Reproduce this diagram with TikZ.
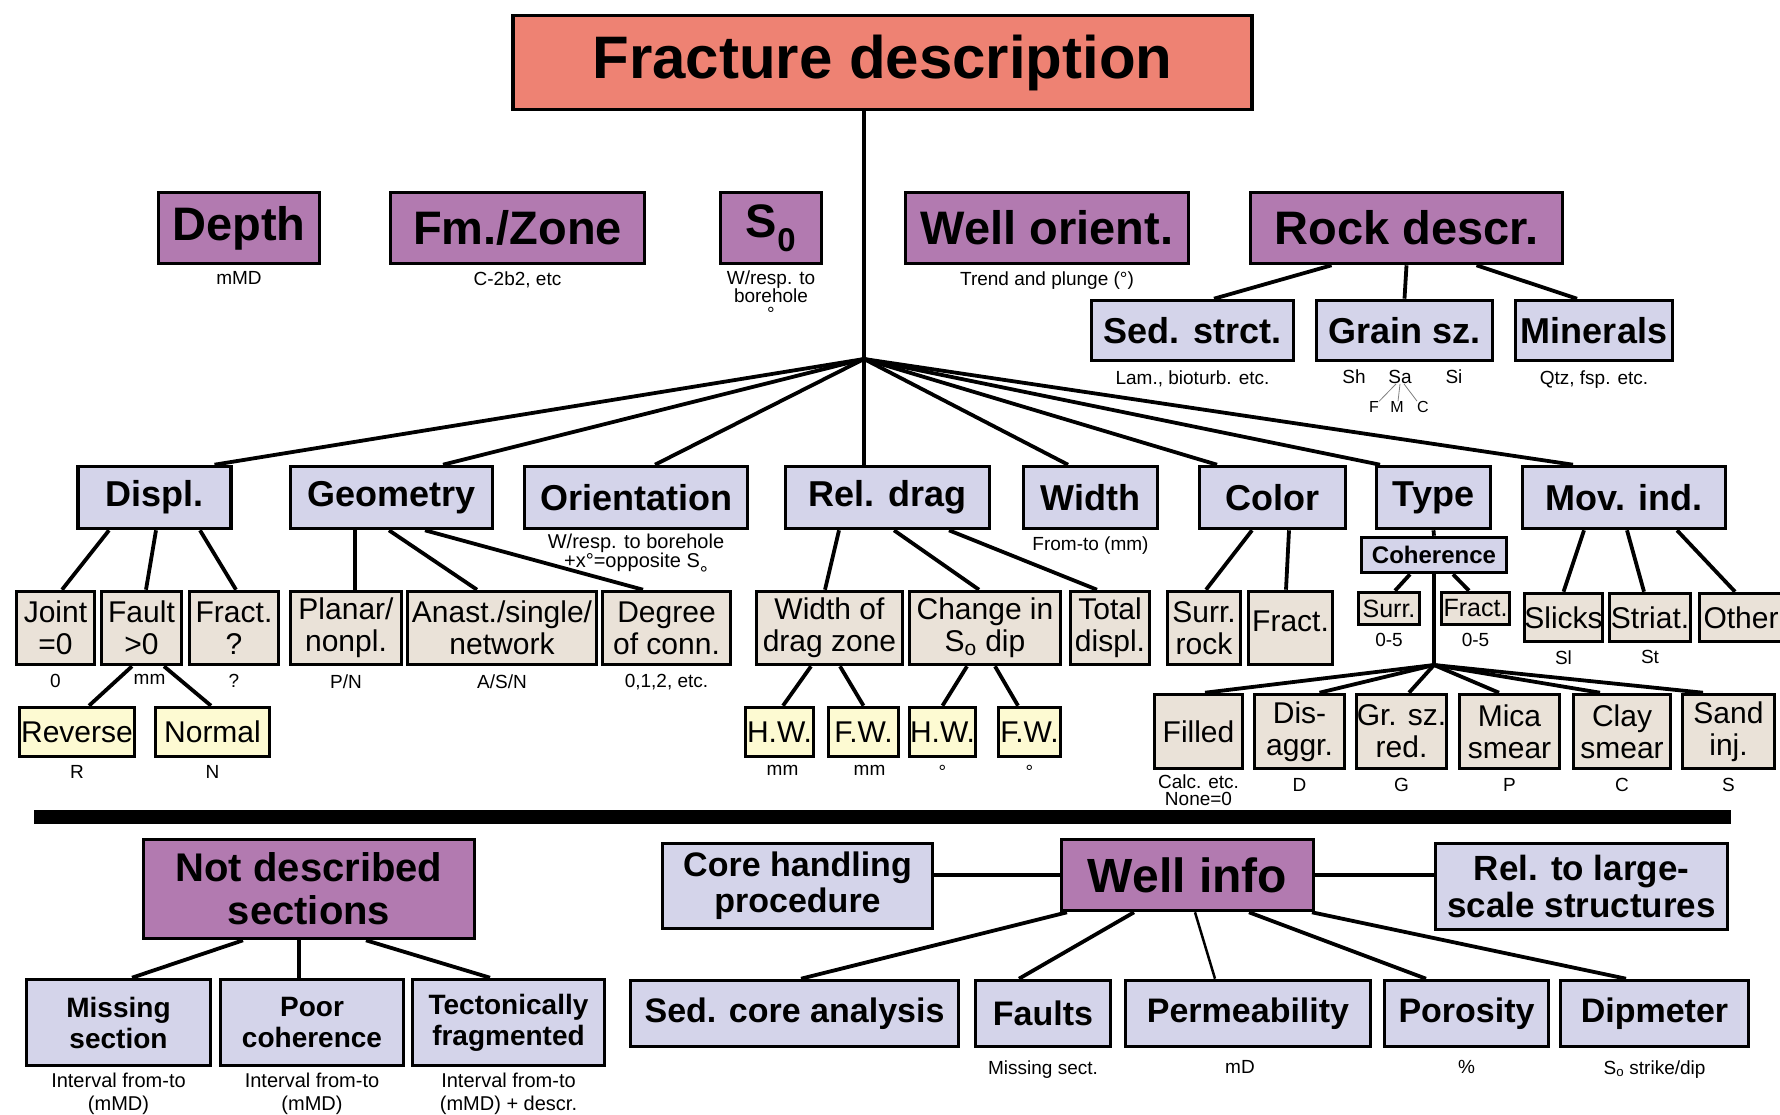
\documentclass[tikz,border=0pt]{standalone}
\usepackage{fontspec}
\setmainfont{Liberation Sans}
\usetikzlibrary{positioning}
\definecolor{salmon}{RGB}{238,130,115}
\definecolor{purp}{RGB}{178,122,176}
\definecolor{lav}{RGB}{212,212,234}
\definecolor{beig}{RGB}{234,226,216}
\definecolor{yel}{RGB}{253,250,210}

\begin{document}
\begin{tikzpicture}[x=1pt,y=-1pt,
  box/.style={draw,line width=3.6pt,inner sep=0pt,align=center},
  sz/.style 2 args={minimum width=#1,minimum height=#2},
  ttl/.style={box,fill=salmon,font=\fontsize{60}{62}\selectfont\bfseries},
  prp/.style={box,fill=purp,font=\fontsize{47}{50}\selectfont\bfseries},
  lv/.style={box,fill=lav,font=\fontsize{36}{38}\selectfont\bfseries},
  bg/.style={box,fill=beig,font=\fontsize{30}{32}\selectfont},
  yl/.style={box,fill=yel,font=\fontsize{30}{32}\selectfont},
  sub/.style={inner sep=0pt,align=center,font=\fontsize{19}{19}\selectfont},
  link/.style={line width=3.8pt}]
\useasboundingbox (0,0) rectangle (1780,1114);

\node[ttl,sz={739}{94}] (title) at (882.5,62.5) {Fracture description};
\coordinate (hub) at (864,359);

\node[prp,sz={161}{71}] (depth) at (239,228) {Depth};
\node[prp,sz={254}{71}] (fmzone) at (517.5,228) {Fm./Zone};
\node[prp,sz={101}{71}] (szero) at (771,228) {S\textsubscript{0}};
\node[prp,sz={283}{71}] (wellor) at (1047,228) {Well orient.};
\node[prp,sz={312}{71}] (rock) at (1406.5,228) {Rock descr.};
\node[sub,below=6pt of depth] (depthl) {mMD};
\node[sub,below=6pt of fmzone] (fmzonel) {C-2b2, etc};
\node[sub,below=5pt of szero,font=\fontsize{19}{18}\selectfont] (szerol) {W/resp. to\\borehole\\°};
\node[sub,below=6pt of wellor] (wellorl) {Trend and plunge (°)};

\node[lv,sz={202}{60}] (sed) at (1192.5,330.5) {Sed. strct.};
\node[lv,sz={176}{60}] (grain) at (1404.5,330.5) {Grain sz.};
\node[lv,sz={157}{60}] (miner) at (1594,330.5) {Minerals};
\draw[link] ([xshift=-75]rock.south) -- ([xshift=21.5]sed.north);
\draw[link] (rock.south) -- (grain.north);
\draw[link] ([xshift=70]rock.south) -- ([xshift=-17]miner.north);
\node[sub,below=8pt of sed] (sedl) {Lam., bioturb. etc.};
\node[sub,below=8pt of miner] (minerl) {Qtz, fsp. etc.};
\node[sub] (sh) at (1354,377) {Sh};
\node[sub] (sa) at (1400,377) {Sa};
\node[sub] (si) at (1454,377) {Si};
\node[sub,font=\fontsize{16}{16}\selectfont] (fi) at (1374,407) {F};
\node[sub,font=\fontsize{16}{16}\selectfont] (me) at (1397,407) {M};
\node[sub,font=\fontsize{16}{16}\selectfont] (co) at (1423,407) {C};
\draw[gray,line width=0.8pt] ([xshift=-4]sa.south) -- (fi.north east);
\draw[gray,line width=0.8pt] (sa.south) -- ([xshift=1]me.north);
\draw[gray,line width=0.8pt] ([xshift=4]sa.south) -- (co.north west);

\node[lv,sz={153}{62}] (displ) at (154.5,497.5) {Displ.};
\node[lv,sz={202}{62}] (geom) at (391.5,497.5) {Geometry};
\node[lv,sz={223}{62}] (orient) at (636,497.5) {Orientation};
\node[lv,sz={204}{62}] (reldrag) at (887.5,497.5) {Rel. drag};
\node[lv,sz={134}{62}] (width) at (1090.5,497.5) {Width};
\node[lv,sz={146}{62}] (color) at (1272.5,497.5) {Color};
\node[lv,sz={114}{62}] (type) at (1433.5,497.5) {Type};
\node[lv,sz={203}{62}] (movind) at (1624,497.5) {Mov. ind.};
\draw[link] (title.south -| hub) -- (hub);
\draw[link] (hub) -- ([xshift=60]displ.north);
\draw[link] (hub) -- ([xshift=51.5]geom.north);
\draw[link] (hub) -- ([xshift=19]orient.north);
\draw[link] (hub) -- ([xshift=-23.5]reldrag.north);
\draw[link] (hub) -- ([xshift=-22.5]width.north);
\draw[link] (hub) -- ([xshift=-55.5]color.north);
\draw[link] (hub) -- ([xshift=-53.5]type.north);
\draw[link] (hub) -- ([xshift=-51]movind.north);
\node[sub,below=3pt of orient,font=\fontsize{20}{17}\selectfont] (orientl) {W/resp. to borehole\\+x°=opposite S\raisebox{-1.2ex}{°}};
\node[sub,below=6pt of width] (widthl) {From-to (mm)};

\node[bg,sz={78}{73}] (joint) at (55.5,628) {Joint\\=0};
\node[bg,sz={80}{73}] (fault) at (141.5,628) {Fault\\>0};
\node[bg,sz={89}{73}] (fracta) at (234,628) {Fract.\\?};
\draw[link] ([xshift=-45.5]displ.south) -- ([xshift=6.5]joint.north);
\draw[link] ([xshift=1.5]displ.south) -- ([xshift=4.5]fault.north);
\draw[link] ([xshift=45.5]displ.south) -- ([xshift=2]fracta.north);
\node[sub,below=8pt of joint] (jointl) {0};
\node[sub,below=8pt of fault,xshift=8] (faultl) {mm};
\node[sub,below=8pt of fracta] (fractal) {?};
\node[yl,sz={115}{49}] (reverse) at (77,732) {Reverse};
\node[yl,sz={114}{49}] (normal) at (212.5,732) {Normal};
\draw[link] ([xshift=-9.5]fault.south) -- ([xshift=12]reverse.north);
\draw[link] ([xshift=22.5]fault.south) -- ([xshift=-1.5]normal.north);
\node[sub,below=7pt of reverse] (reversel) {R};
\node[sub,below=7pt of normal] (normall) {N};

\node[bg,sz={111}{73}] (planar) at (346,628) {Planar/\\nonpl.};
\node[bg,sz={189}{73}] (anast) at (502,628) {Anast./single/\\network};
\node[bg,sz={128}{73}] (degree) at (666.5,628) {Degree\\of conn.};
\draw[link] ([xshift=-36.5]geom.south) -- ([xshift=9]planar.north);
\draw[link] ([xshift=-2.5]geom.south) -- ([xshift=-25]anast.north);
\draw[link] ([xshift=33.5]geom.south) -- ([xshift=-23.5]degree.north);
\node[sub,below=8pt of planar] (planarl) {P/N};
\node[sub,below=8pt of anast] (anastl) {A/S/N};
\node[sub,below=8pt of degree] (degreel) {0,1,2, etc.};

\node[bg,sz={146}{73}] (dragz) at (829.5,628) {Width of\\drag zone};
\node[bg,sz={151}{73}] (chdip) at (985,628) {Change in\\S\textsubscript{o} dip};
\node[bg,sz={79}{73}] (totd) at (1110,628) {Total\\displ.};
\draw[link] ([xshift=-48.5]reldrag.south) -- ([xshift=-4.5]dragz.north);
\draw[link] ([xshift=6.5]reldrag.south) -- ([xshift=-6]chdip.north);
\draw[link] ([xshift=61.5]reldrag.south) -- ([xshift=-13]totd.north);
\node[yl,sz={68}{49}] (hwa) at (779.5,732) {H.W.};
\node[yl,sz={70}{49}] (fwa) at (863.5,732) {F.W.};
\node[yl,sz={66}{49}] (hwb) at (942.5,732) {H.W.};
\node[yl,sz={62}{49}] (fwb) at (1029.5,732) {F.W.};
\draw[link] ([xshift=-18.5]dragz.south) -- ([xshift=3.5]hwa.north);
\draw[link] ([xshift=10.5]dragz.south) -- (fwa.north);
\draw[link] ([xshift=-18]chdip.south) -- (hwb.north);
\draw[link] ([xshift=10]chdip.south) -- ([xshift=-11.5]fwb.north);
\node[sub,below=7pt of hwa,xshift=3] (hwal) {mm};
\node[sub,below=7pt of fwa,xshift=6] (fwal) {mm};
\node[sub,below=7pt of hwb] (hwbl) {°};
\node[sub,below=7pt of fwb] (fwbl) {°};

\node[bg,sz={73}{73}] (surrrock) at (1204,628) {Surr.\\rock};
\node[bg,sz={84}{73}] (fractb) at (1290.5,628) {\raisebox{14pt}{Fract.}};
\draw[link] ([xshift=-20.5]color.south) -- ([xshift=2]surrrock.north);
\draw[link] ([xshift=16.5]color.south) -- ([xshift=-4.5]fractb.north);

\node[lv,sz={145}{35},font=\fontsize{24}{24}\selectfont\bfseries] (coher) at (1434,555) {Coherence};
\draw[link] (type.south) -- (coher.north);
\node[bg,sz={61}{32},font=\fontsize{25}{25}\selectfont] (surrc) at (1389,608.5) {Surr.};
\node[bg,sz={68}{32},font=\fontsize{25}{25}\selectfont] (fractc) at (1475.5,608.5) {Fract.};
\draw[link] ([xshift=-24]coher.south) -- ([xshift=6]surrc.north);
\draw[link] ([xshift=19]coher.south) -- ([xshift=-6.5]fractc.north);
\node[sub,below=7pt of surrc] (surrcl) {0-5};
\node[sub,below=7pt of fractc] (fractcl) {0-5};

\coordinate (hubb) at (1434,665);
\node[bg,sz={88}{74}] (filled) at (1198.5,731.5) {Filled};
\node[bg,sz={90}{74}] (disag) at (1299.5,731.5) {Dis-\\aggr.};
\node[bg,sz={90}{74}] (grsz) at (1401.5,731.5) {Gr. sz.\\red.};
\node[bg,sz={100}{74}] (mica) at (1509.5,731.5) {Mica\\smear};
\node[bg,sz={97}{74}] (clay) at (1622,731.5) {Clay\\smear};
\node[bg,sz={92}{74}] (sand) at (1728.5,731.5) {Sand\\inj.};
\draw[link] (coher.south) -- (hubb);
\draw[link] (hubb) -- ([xshift=6.5]filled.north);
\draw[link] (hubb) -- ([xshift=20]disag.north);
\draw[link] (hubb) -- ([xshift=7.5]grsz.north);
\draw[link] (hubb) -- ([xshift=-10.5]mica.north);
\draw[link] (hubb) -- ([xshift=-22]clay.north);
\draw[link] (hubb) -- ([xshift=-25.5]sand.north);
\node[sub,below=4pt of filled,font=\fontsize{19}{17}\selectfont] (filledl) {Calc. etc.\\None=0};
\node[sub,below=8pt of disag] (disagl) {D};
\node[sub,below=8pt of grsz] (grszl) {G};
\node[sub,below=8pt of mica] (mical) {P};
\node[sub,below=8pt of clay] (clayl) {C};
\node[sub,below=8pt of sand] (sandl) {S};

\node[bg,sz={76}{48}] (slicks) at (1563.5,617.5) {Slicks};
\node[bg,sz={81}{48}] (striat) at (1650,617.5) {Striat.};
\node[bg,sz={83}{48}] (other) at (1741,617.5) {Other};
\draw[link] ([xshift=-40]movind.south) -- (slicks.north);
\draw[link] ([xshift=3]movind.south) -- ([xshift=-6]striat.north);
\draw[link] ([xshift=53]movind.south) -- ([xshift=-6]other.north);
\node[sub,below=7pt of slicks] (slicksl) {Sl};
\node[sub,below=7pt of striat] (striatl) {St};

\fill (34,810) rectangle (1731,824);

\node[prp,sz={331}{99},font=\fontsize{40}{43}\selectfont\bfseries] (notdesc) at (309,889) {Not described\\sections};
\node[lv,sz={184}{86},font=\fontsize{28}{31}\selectfont\bfseries] (missing) at (118.5,1022.5) {Missing\\section};
\node[lv,sz={183}{86},font=\fontsize{28}{31}\selectfont\bfseries] (poor) at (312,1022.5) {Poor\\coherence};
\node[lv,sz={192}{86},font=\fontsize{28}{31}\selectfont\bfseries] (tecto) at (508.5,1022.5) {Tectonically\\fragmented};
\draw[link] ([xshift=-66]notdesc.south) -- ([xshift=13.5]missing.north);
\draw[link] ([xshift=-10]notdesc.south) -- ([xshift=-13]poor.north);
\draw[link] ([xshift=57]notdesc.south) -- ([xshift=-18.5]tecto.north);
\node[sub,below=5pt of missing,font=\fontsize{20}{23}\selectfont] (missingl) {Interval from-to\\(mMD)};
\node[sub,below=5pt of poor,font=\fontsize{20}{23}\selectfont] (poorl) {Interval from-to\\(mMD)};
\node[sub,below=5pt of tecto,font=\fontsize{20}{23}\selectfont] (tectol) {Interval from-to\\(mMD) + descr.};

\node[prp,sz={252}{71},font=\fontsize{48}{50}\selectfont\bfseries] (wellinfo) at (1187.5,875) {Well info};
\node[lv,sz={270}{85},font=\fontsize{34}{36}\selectfont\bfseries] (core) at (797.5,886) {Core handling\\procedure};
\node[lv,sz={292}{86},font=\fontsize{35}{37}\selectfont\bfseries] (rellarge) at (1581.5,886.5) {Rel. to large-\\scale structures};
\draw[link] (core.east |- wellinfo.west) -- (wellinfo.west);
\draw[link] (wellinfo.east) -- (rellarge.west |- wellinfo.east);
\node[lv,sz={328}{66},font=\fontsize{34}{36}\selectfont\bfseries] (sedcore) at (794.5,1013.5) {Sed. core analysis};
\node[lv,sz={135}{66},font=\fontsize{34}{36}\selectfont\bfseries] (faults) at (1043,1013.5) {Faults};
\node[lv,sz={245}{66},font=\fontsize{34}{36}\selectfont\bfseries] (perm) at (1248,1013.5) {Permeability};
\node[lv,sz={164}{66},font=\fontsize{34}{36}\selectfont\bfseries] (poros) at (1466.5,1013.5) {Porosity};
\node[lv,sz={188}{66},font=\fontsize{34}{36}\selectfont\bfseries] (dipm) at (1654.5,1013.5) {Dipmeter};
\draw[link] ([xshift=-120.5]wellinfo.south) -- ([xshift=6.5]sedcore.north);
\draw[link] ([xshift=-53.5]wellinfo.south) -- ([xshift=-24]faults.north);
\draw[line width=2.5pt] ([xshift=7.5]wellinfo.south) -- ([xshift=-33]perm.north);
\draw[link] ([xshift=61.5]wellinfo.south) -- ([xshift=-40.5]poros.north);
\draw[link] ([xshift=124.5]wellinfo.south) -- ([xshift=-28.5]dipm.north);
\node[sub,below=12pt of faults] (faultsl) {Missing sect.};
\node[sub,below=12pt of perm,xshift=-8] (perml) {mD};
\node[sub,below=12pt of poros] (porosl) {\%};
\node[sub,below=12pt of dipm] (dipml) {S\textsubscript{o} strike/dip};
\end{tikzpicture}
\end{document}
